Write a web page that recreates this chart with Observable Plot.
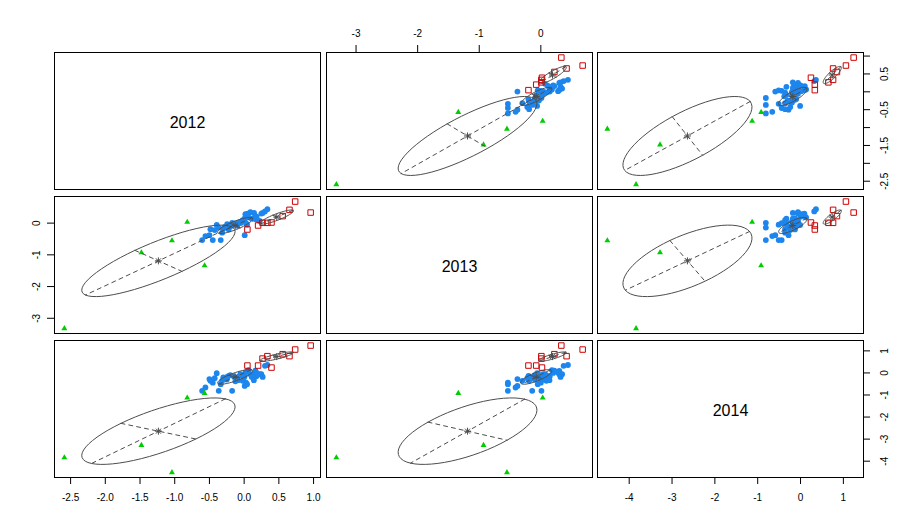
<!DOCTYPE html>
<html><head><meta charset="utf-8">
<script src="https://cdn.jsdelivr.net/npm/d3@7"></script>
<script src="https://cdn.jsdelivr.net/npm/@observablehq/plot@0.6"></script>
<style>
body{margin:0;background:#fff;}
#chart{position:relative;width:916px;height:532px;background:#fff;overflow:hidden;font-family:"Liberation Sans",Arial,sans-serif;}
#chart svg{position:absolute;}
</style></head><body><div id="chart"></div>
<script>
const years = ["2012", "2013", "2014"];

// cluster 1 (blue, filled circles)
const blue2012 = [-0.605,-0.558,-0.50,-0.452,-0.486,-0.424,-0.395,-0.366,-0.337,-0.317,-0.28,-0.245,-0.222,-0.173,-0.126,-0.087,-0.054,-0.021,0.008,0.018,0.051,0.09,0.143,0.162,0.176,0.224,0.335,0.008,0.065,0.11,0.027,0.042,0.248,0.267,0.30,-0.20,-0.15,-0.10,-0.05,0.00,-0.30,-0.25,0.14,0.18];
const blue2013 = [-0.535,-0.41,-0.38,-0.535,-0.19,-0.22,-0.06,-0.14,-0.535,-0.30,-0.12,-0.03,-0.20,0.01,-0.01,0.01,0.04,0.09,0.145,0.28,0.30,0.345,0.32,0.22,0.11,0.07,0.44,-0.38,0.18,0.14,0.0,-0.05,0.30,0.32,0.37,-0.10,-0.05,-0.08,0.00,0.05,-0.18,-0.10,0.14,0.20];
const blue2014 = [-0.81,-0.66,-0.28,-0.44,-0.36,-0.24,-0.01,-0.81,-0.51,-0.36,-0.24,-0.18,-0.13,-0.81,-0.38,-0.33,-0.06,-0.36,-0.13,0.02,0.09,-0.06,-0.06,0.10,-0.15,-0.06,0.36,-0.59,0.13,-0.18,-0.44,-0.51,-0.06,-0.18,0.32,-0.10,-0.15,-0.20,-0.10,-0.20,-0.20,-0.30,-0.33,0.00];
// cluster 2 (red, open squares)
const red2012 = [0.958,0.735,0.653,0.555,0.394,0.335,0.265,0.201,0.047];
const red2013 = [0.333,0.679,0.418,0.220,0.019,0.009,0.009,-0.075,-0.201];
const red2014 = [1.24,1.06,0.76,0.85,0.243,0.76,0.65,0.334,0.334];
// cluster 3 (green, filled triangles)
const green2012 = [-2.59,-1.48,-1.04,-0.82,-0.57];
const green2013 = [-3.32,-0.93,-0.55,0.03,-1.34];
const green2014 = [-3.84,-3.28,-4.51,-1.13,-0.92];

// fitted component means and covariances (2012, 2013, 2014)
const blueMean = [-0.13, -0.075, -0.18];
const redMean = [0.47, 0.19, 0.74];
const greenMean = [-1.235, -1.19, -2.64];
const blueCov = [[0.064,0.053,0.068],[0.053,0.064,0.066],[0.068,0.066,0.11]];
const redCov = [[0.058,0.047,0.043],[0.047,0.05,0.04],[0.043,0.04,0.045]];
const greenCov = [[1.22,1.02,1.22],[1.02,1.27,1.08],[1.22,1.08,2.27]];

// axis ticks
const ticksBottom2012 = [-2.5,-2,-1.5,-1,-0.5,0,0.5,1];
const ticksRight2012 = [1,0.5,0,-0.5,-1,-1.5,-2,-2.5];
const labelsRight2012 = [0.5,-0.5,-1.5,-2.5];
const ticksTop2013 = [-3,-2,-1,0];
const ticksLeft2013 = [0,-1,-2,-3];
const ticksRight2014 = [1,0,-1,-2,-3,-4];
const ticksBottom2014 = [-4,-3,-2,-1,0,1];

const groups = [
  {cols: [blue2012, blue2013, blue2014], mean: blueMean, cov: blueCov, color: "#1C86EE", symbol: "circle", r: 2.9, filled: true},
  {cols: [red2012, red2013, red2014], mean: redMean, cov: redCov, color: "#CD0000", symbol: "square", r: 3.1, filled: false},
  {cols: [green2012, green2013, green2014], mean: greenMean, cov: greenCov, color: "#00CD00", symbol: "triangle", r: 2.2, filled: true}
];

// variable domains like R: range extended by 4%
const domains = [0,1,2].map(v => {
  const all = groups.flatMap(g => g.cols[v]);
  const [lo, hi] = d3.extent(all);
  const p = 0.04 * (hi - lo);
  return [lo - p, hi + p];
});

function ellipse(mean, cov, xi, yi) {
  const a = cov[xi][xi], c = cov[yi][yi], b = cov[xi][yi];
  const tr = (a + c) / 2, dd = Math.sqrt(((a - c) / 2) ** 2 + b * b);
  const s1 = Math.sqrt(tr + dd), s2 = Math.sqrt(Math.max(tr - dd, 0));
  const th = 0.5 * Math.atan2(2 * b, a - c);
  const u = [Math.cos(th), Math.sin(th)], v = [-Math.sin(th), Math.cos(th)];
  const mx = mean[xi], my = mean[yi];
  const ring = d3.range(61).map(k => {
    const t = k * Math.PI / 30, p = s1 * Math.cos(t), q = s2 * Math.sin(t);
    return {x: mx + p * u[0] + q * v[0], y: my + p * u[1] + q * v[1]};
  });
  const axes = [
    {k: 0, x: mx + s1 * u[0], y: my + s1 * u[1]}, {k: 0, x: mx - s1 * u[0], y: my - s1 * u[1]},
    {k: 1, x: mx + s2 * v[0], y: my + s2 * v[1]}, {k: 1, x: mx - s2 * v[0], y: my - s2 * v[1]}
  ];
  return {ring, axes, center: [{x: mx, y: my}]};
}

const lefts = [54, 326, 597], tops = [52, 196, 340], W = 266, H = 137, M = 40;
const fmt1 = d => d.toFixed(1), fmt0 = d => String(d);
const axisSpecs = {
  "0,1": [{side: "top", ticks: ticksTop2013, labels: ticksTop2013, fmt: fmt0}],
  "0,2": [{side: "right", ticks: ticksRight2012, labels: labelsRight2012, fmt: fmt1}],
  "1,0": [{side: "left", ticks: ticksLeft2013, labels: ticksLeft2013, fmt: fmt0}],
  "2,0": [{side: "bottom", ticks: ticksBottom2012, labels: ticksBottom2012, fmt: fmt1}],
  "2,2": [{side: "right", ticks: ticksRight2014, labels: ticksRight2014, fmt: fmt0},
          {side: "bottom", ticks: ticksBottom2014, labels: ticksBottom2014, fmt: fmt0}]
};
const TL = 7, FS = 10;
function axisMarks(s) {
  const o = {stroke: "black", strokeWidth: 1};
  const t = {fontSize: FS, fill: "black", textAnchor: "middle", lineAnchor: "middle"};
  if (s.side === "bottom") return [
    Plot.ruleX(s.ticks, {x: d => d, insetTop: H, insetBottom: -TL, ...o}),
    Plot.text(s.labels, {x: d => d, text: s.fmt, frameAnchor: "bottom", dy: 20.7, ...t})];
  if (s.side === "top") return [
    Plot.ruleX(s.ticks, {x: d => d, insetTop: -TL, insetBottom: H, ...o}),
    Plot.text(s.labels, {x: d => d, text: s.fmt, frameAnchor: "top", dy: -18.3, ...t})];
  if (s.side === "left") return [
    Plot.ruleY(s.ticks, {y: d => d, insetLeft: -TL, insetRight: W, ...o}),
    Plot.text(s.labels, {y: d => d, text: s.fmt, frameAnchor: "left", dx: -17.6, rotate: -90, ...t})];
  return [
    Plot.ruleY(s.ticks, {y: d => d, insetLeft: W, insetRight: -TL, ...o}),
    Plot.text(s.labels, {y: d => d, text: s.fmt, frameAnchor: "right", dx: 21, rotate: -90, ...t})];
}

const chart = document.getElementById("chart");
for (let i = 0; i < 3; i++) {
  for (let j = 0; j < 3; j++) {
    const xv = j, yv = i;
    const marks = [];
    if (i === j) {
      marks.push(Plot.text([years[i]], {text: d => d, frameAnchor: "middle", dy: 2, fontSize: 16, fill: "black"}));
    } else {
      for (const g of groups) {
        const idx = d3.range(g.cols[0].length);
        marks.push(Plot.dot(idx, {
          x: k => g.cols[xv][k], y: k => g.cols[yv][k], symbol: g.symbol, r: g.r,
          fill: g.filled ? g.color : "none", stroke: g.filled ? "none" : g.color, strokeWidth: 1
        }));
      }
      for (const g of groups) {
        const e = ellipse(g.mean, g.cov, xv, yv);
        marks.push(Plot.line(e.ring, {x: "x", y: "y", stroke: "#4D4D4D", strokeWidth: 1}));
        marks.push(Plot.line(e.axes, {x: "x", y: "y", z: "k", stroke: "#4D4D4D", strokeWidth: 1, strokeDasharray: "4,4"}));
        marks.push(Plot.dot(e.center, {x: "x", y: "y", symbol: "plus", r: 2.4, stroke: "#4D4D4D", strokeWidth: 1}));
        marks.push(Plot.dot(e.center, {x: "x", y: "y", symbol: "times", r: 2.4, stroke: "#4D4D4D", strokeWidth: 1}));
      }
    }
    for (const s of (axisSpecs[i + "," + j] || [])) marks.push(...axisMarks(s));
    marks.push(Plot.frame({stroke: "black", strokeWidth: 1}));
    const svg = Plot.plot({
      width: W + 2 * M, height: H + 2 * M, margin: M,
      x: {domain: domains[xv], axis: null},
      y: {domain: domains[yv], axis: null},
      style: {background: "transparent", overflow: "visible", fontFamily: "'Liberation Sans', Arial, sans-serif"},
      marks
    });
    svg.style.position = "absolute";
    svg.style.left = (lefts[j] - M) + "px";
    svg.style.top = (tops[i] - M) + "px";
    svg.style.maxWidth = "none";
    chart.appendChild(svg);
  }
}
</script></body></html>
